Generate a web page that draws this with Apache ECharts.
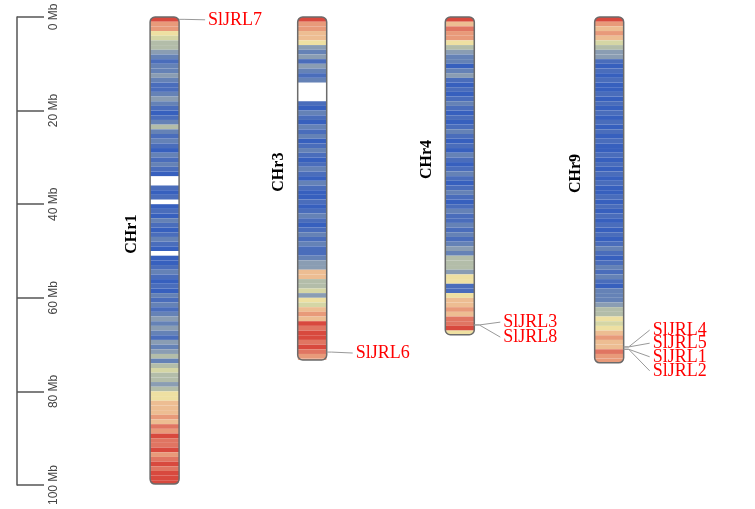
<!DOCTYPE html>
<html>
<head>
<meta charset="utf-8">
<script src="https://cdn.jsdelivr.net/npm/echarts@6/dist/echarts.min.js"></script>
<style>
    html, body { margin: 0; padding: 0; background: #fff; }
    #chart { width: 755px; height: 509px; }
</style>
</head>
<body>
<div id="chart"></div>
<script>
// 染色体名称、位置、长度 (Mb)
var chrNames = ['CHr1', 'CHr3', 'CHr4', 'CHr9'];
var chrPos = [1, 2, 3, 4.012];
var chrLength = [99.8, 73.3, 67.9, 73.9];

// 每 1 Mb 的基因密度 (0 低 - 10 高), null 为空白
var densChr1 = [10, 8, 8, 6, 5, 4, 4, 3, 2, 1, 2, 2, 3, 2, 1, 1, 2, 3, 2, 1,
    0, 1, 2, 4, 2, 1, 2, 1, 0, 2, 1, 2, 1, 0, null, null, 1, 0, 1, null,
    0, 1, 0, 2, 1, 0, 1, 2, 1, 0, null, 0, 0, 1, 2, 1, 0, 1, 0, 2,
    1, 2, 1, 2, 3, 2, 3, 2, 1, 3, 2, 3, 4, 2, 4, 5, 4, 4, 3, 4,
    6, 6, 7, 7, 7, 8, 7, 9, 8, 10, 9, 9, 10, 8, 9, 10, 9, 10, 10, 10];
var densChr3 = [10, 8, 8, 7, 7, 6, 3, 2, 3, 1, 3, 2, 1, 2, null, null, null, null, 1, 0,
    2, 1, 0, 2, 1, 2, 0, 1, 2, 1, 0, 1, 2, 1, 0, 2, 1, 0, 0, 1,
    0, 1, 2, 1, 0, 1, 2, 1, 2, 1, 1, 2, 3, 3, 7, 7, 4, 4, 5, 3,
    6, 5, 7, 8, 7, 10, 9, 10, 10, 9, 10, 9, 8, 8];
var densChr4 = [10, 7, 9, 8, 8, 6, 4, 3, 2, 2, 0, 2, 3, 1, 0, 1, 0, 1, 2, 1,
    0, 1, 0, 1, 2, 1, 0, 1, 0, 2, 1, 0, 1, 2, 1, 0, 1, 2, 1, 0,
    1, 2, 1, 1, 2, 1, 2, 1, 2, 3, 2, 4, 4, 4, 3, 6, 6, 1, 1, 6,
    7, 7, 8, 7, 9, 9, 10, 6];
var densChr9 = [10, 8, 7, 8, 7, 5, 4, 3, 3, 1, 0, 1, 0, 1, 0, 0, 1, 0, 1, 0,
    1, 0, 1, 0, 1, 0, 1, 0, 0, 1, 0, 1, 0, 1, 0, 1, 0, 0, 1, 0,
    1, 0, 1, 0, 1, 0, 1, 0, 1, 2, 1, 0, 1, 2, 1, 2, 1, 0, 2, 2,
    2, 3, 4, 4, 6, 5, 6, 7, 8, 7, 7, 9, 8, 8];
var densAll = [densChr1, densChr3, densChr4, densChr9];

// 基因: 名称, 所在染色体序号, 位置 (Mb), 标签位置 (Mb)
var geneNames = ['SlJRL7', 'SlJRL6', 'SlJRL3', 'SlJRL8', 'SlJRL4', 'SlJRL5', 'SlJRL1', 'SlJRL2'];
var geneChr = [0, 1, 2, 2, 3, 3, 3, 3];
var genePos = [0.5, 71.6, 65.8, 65.8, 70.5, 70.5, 71.0, 71.0];
var geneLabelPos = [0.6, 71.8, 65.2, 68.4, 66.9, 69.7, 72.6, 75.6];

// 坐标轴刻度
var tickMax = 100;
var tickStep = 20;

var densColors = ['#3760be', '#4a6dbb', '#6582b6', '#8a9db3', '#b3bda9', '#d5d6a5',
    '#eee0a2', '#edbd92', '#e89a7a', '#e07562', '#d8493e'];
var chrWidth = 29;
var serif = '"Liberation Serif", "Times New Roman", serif';

var bandData = [];
densAll.forEach(function (arr, i) {
    arr.forEach(function (v, j) {
        if (v === null) return;
        bandData.push([chrPos[i], j, Math.min(j + 1, chrLength[i]), v, chrLength[i]]);
    });
});
var chrData = chrNames.map(function (n, i) {
    return [chrPos[i], chrLength[i], n];
});
var geneData = geneNames.map(function (n, i) {
    return [chrPos[geneChr[i]], genePos[i], geneLabelPos[i], n];
});

var chart = echarts.init(document.getElementById('chart'));
var option = {
    backgroundColor: '#fff',
    animation: false,
    grid: { left: 17, right: 0, top: 17, bottom: 24 },
    xAxis: { type: 'value', min: 0, max: 5, show: false },
    yAxis: {
        type: 'value',
        inverse: true,
        min: 0,
        max: tickMax,
        interval: tickStep,
        axisLine: { show: true, lineStyle: { color: '#555', width: 1.5 } },
        axisTick: { show: true, inside: true, length: 27, lineStyle: { color: '#555', width: 1.5 } },
        axisLabel: {
            inside: true,
            margin: 31,
            rotate: 90,
            align: 'center',
            verticalAlign: 'top',
            color: '#444',
            fontSize: 12,
            fontFamily: '"Liberation Sans", Arial, sans-serif',
            formatter: function (v) { return v + ' Mb'; }
        },
        splitLine: { show: false }
    },
    visualMap: {
        show: false,
        type: 'continuous',
        seriesIndex: 0,
        dimension: 3,
        min: 0,
        max: 10,
        inRange: { color: densColors }
    },
    series: [
        {
            // 密度条带
            type: 'custom',
            data: bandData,
            renderItem: function (params, api) {
                var p1 = api.coord([api.value(0), api.value(1)]);
                var p2 = api.coord([api.value(0), api.value(2)]);
                var r = 0;
                if (api.value(1) === 0) r = [5, 5, 0, 0];
                else if (api.value(2) >= api.value(4)) r = [0, 0, 5, 5];
                return {
                    type: 'rect',
                    shape: { x: p1[0] - chrWidth / 2, y: p1[1], width: chrWidth, height: p2[1] - p1[1], r: r },
                    style: { fill: api.visual('color') }
                };
            }
        },
        {
            // 染色体轮廓 + 名称
            type: 'custom',
            data: chrData,
            renderItem: function (params, api) {
                var top = api.coord([api.value(0), 0]);
                var bot = api.coord([api.value(0), api.value(1)]);
                var mid = api.coord([api.value(0), api.value(1) / 2 - 3.5]);
                return {
                    type: 'group',
                    children: [{
                        type: 'rect',
                        shape: { x: top[0] - chrWidth / 2, y: top[1], width: chrWidth, height: bot[1] - top[1], r: 5 },
                        style: { fill: 'none', stroke: '#6b6b6b', lineWidth: 1.5 }
                    }, {
                        type: 'text',
                        x: top[0] - 33,
                        y: mid[1],
                        rotation: Math.PI / 2,
                        style: {
                            text: chrData[params.dataIndex][2],
                            fill: '#000',
                            font: 'bold 16px ' + serif,
                            align: 'center',
                            verticalAlign: 'middle'
                        }
                    }]
                };
            }
        },
        {
            // 基因标注
            type: 'custom',
            data: geneData,
            renderItem: function (params, api) {
                var g = api.coord([api.value(0), api.value(1)]);
                var l = api.coord([api.value(0), api.value(2)]);
                var xe = g[0] + chrWidth / 2;
                return {
                    type: 'group',
                    children: [{
                        type: 'polyline',
                        shape: { points: [[xe, g[1]], [xe + 5, g[1]], [xe + 26, l[1]]] },
                        style: { stroke: '#999', lineWidth: 1, fill: 'none' }
                    }, {
                        type: 'text',
                        x: xe + 29,
                        y: l[1],
                        style: {
                            text: geneData[params.dataIndex][3],
                            fill: '#ff0000',
                            font: '18px ' + serif,
                            align: 'left',
                            verticalAlign: 'middle'
                        }
                    }]
                };
            }
        }
    ]
};
chart.setOption(option);
</script>
</body>
</html>
